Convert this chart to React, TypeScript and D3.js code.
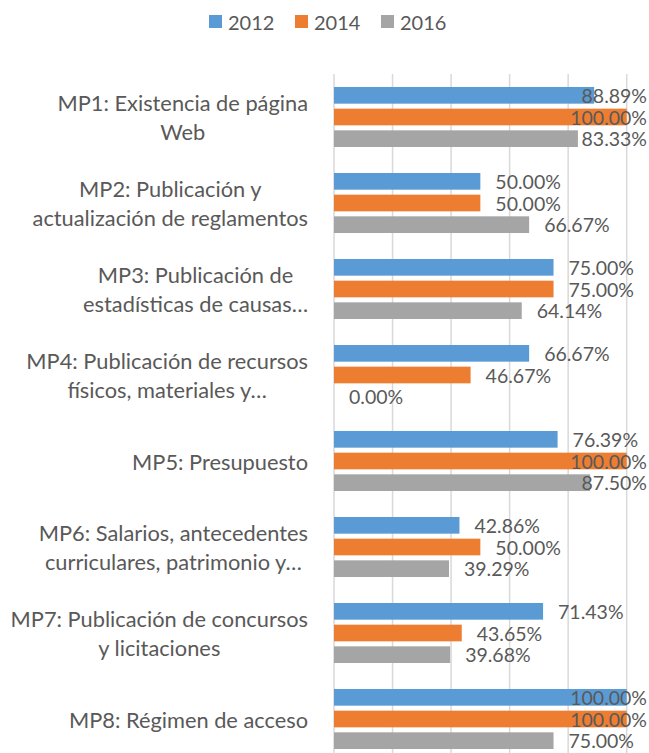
import React, { useRef, useEffect } from "react";
import * as d3 from "d3";

const categoryLines: string[][] = [
  ["MP1: Existencia de página", "Web"],
  ["MP2: Publicación y", "actualización de reglamentos"],
  ["MP3: Publicación de", "estadísticas de causas…"],
  ["MP4: Publicación de recursos", "físicos, materiales y…"],
  ["MP5: Presupuesto"],
  ["MP6: Salarios, antecedentes", "curriculares, patrimonio y…"],
  ["MP7: Publicación de concursos", "y licitaciones"],
  ["MP8: Régimen de acceso"],
];
const seriesNames = ["2012", "2014", "2016"];
const values2012 = [88.89, 50.0, 75.0, 66.67, 76.39, 42.86, 71.43, 100.0];
const values2014 = [100.0, 50.0, 75.0, 46.67, 100.0, 50.0, 43.65, 100.0];
const values2016 = [83.33, 66.67, 64.14, 0.0, 87.5, 39.29, 39.68, 75.0];
const gridTicks = [0, 20, 40, 60, 80, 100];
const colors = ["#5b9bd5", "#ed7d31", "#a5a5a5"];

function App() {
  const svgRef = useRef<SVGSVGElement>(null);

  useEffect(() => {
    const width = 649;
    const height = 753;
    const font = "Lato, 'Open Sans', sans-serif";
    const textColor = "#595959";
    const svg = d3.select(svgRef.current);
    svg.selectAll("*").remove();
    svg.attr("width", width).attr("height", height);

    const series = [values2012, values2014, values2016];
    const idx = d3.range(categoryLines.length);

    const x = d3.scaleLinear().domain([0, 100]).range([334, 626.7]);
    const y = d3
      .scaleBand<number>()
      .domain(idx)
      .range([74, 762])
      .paddingInner(0.244)
      .paddingOuter(0.122);
    const ys = d3
      .scaleBand<number>()
      .domain([0, 1, 2])
      .range([0, y.bandwidth()])
      .paddingInner(0.23)
      .paddingOuter(0.115);

    // gridlines
    svg
      .append("g")
      .selectAll("line")
      .data(gridTicks)
      .enter()
      .append("line")
      .attr("x1", (d) => x(d))
      .attr("x2", (d) => x(d))
      .attr("y1", 74)
      .attr("y2", height)
      .attr("stroke", "#d9d9d9")
      .attr("stroke-width", 1.5);

    // bars
    series.forEach((vals, s) => {
      svg
        .append("g")
        .selectAll("rect")
        .data(vals)
        .enter()
        .append("rect")
        .attr("x", x(0))
        .attr("y", (_, i) => (y(i) as number) + (ys(s) as number))
        .attr("width", (d) => x(d) - x(0))
        .attr("height", ys.bandwidth())
        .attr("fill", colors[s]);
    });

    // data labels
    const labelSize = 19.5;
    series.forEach((vals, s) => {
      svg
        .append("g")
        .selectAll("text")
        .data(vals)
        .enter()
        .append("text")
        .attr("font-family", font)
        .attr("font-size", labelSize)
        .attr("fill", textColor)
        .attr("dominant-baseline", "central")
        .attr("y", (_, i) => (y(i) as number) + (ys(s) as number) + ys.bandwidth() / 2)
        .text((d) => d.toFixed(2) + "%")
        .each(function (d) {
          const el = this as SVGTextElement;
          const w = el.getComputedTextLength();
          const px = Math.min(x(d) + 15, 647 - w);
          d3.select(el).attr("x", px);
        });
    });

    // category labels
    const catSize = 21.8;
    const lineH = 28.5;
    const right = 308;
    const cats = svg.append("g");
    idx.forEach((i) => {
      const lines = categoryLines[i];
      const cy = (y(i) as number) + y.bandwidth() / 2;
      const g = cats.append("g");
      const texts = g
        .selectAll("text")
        .data(lines)
        .enter()
        .append("text")
        .attr("font-family", font)
        .attr("font-size", catSize)
        .attr("fill", textColor)
        .attr("text-anchor", "middle")
        .attr("dominant-baseline", "central")
        .attr("y", (_, k) => cy + (k - (lines.length - 1) / 2) * lineH)
        .text((d) => d);
      let maxW = 0;
      texts.each(function () {
        maxW = Math.max(maxW, (this as SVGTextElement).getComputedTextLength());
      });
      texts.attr("x", right - maxW / 2);
    });

    // legend
    const legend = svg.append("g");
    seriesNames.forEach((name, s) => {
      const lx = 209 + s * 86;
      legend
        .append("rect")
        .attr("x", lx)
        .attr("y", 15)
        .attr("width", 13)
        .attr("height", 13)
        .attr("fill", colors[s]);
      legend
        .append("text")
        .attr("x", lx + 19)
        .attr("y", 22)
        .attr("dominant-baseline", "central")
        .attr("font-family", font)
        .attr("font-size", 20)
        .attr("fill", textColor)
        .text(name);
    });
  }, []);

  return (
    <svg
      ref={svgRef}
      style={{ position: "absolute", left: 0, top: 0, display: "block" }}
    ></svg>
  );
}

export default App;
